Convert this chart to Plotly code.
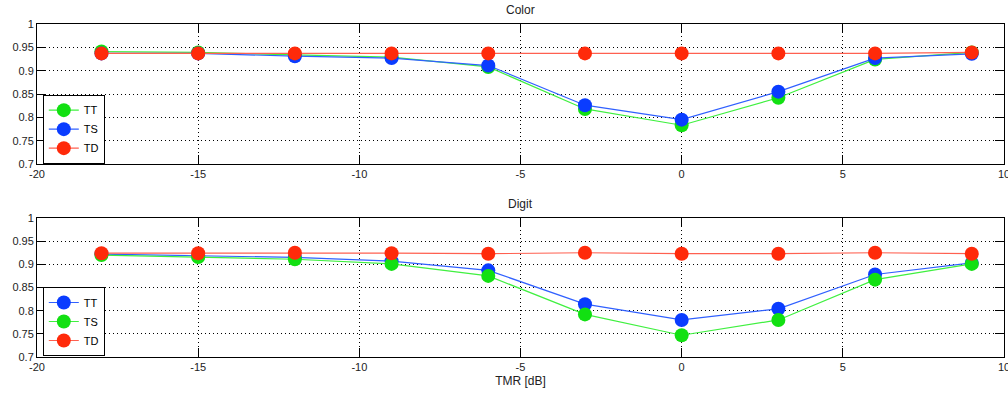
import plotly.graph_objects as go

# TMR values (dB)
tmr = [-18, -15, -12, -9, -6, -3, 0, 3, 6, 9]

# Color task accuracies
color_tt = [0.941, 0.939, 0.934, 0.929, 0.908, 0.818, 0.783, 0.842, 0.924, 0.939]
color_ts = [0.937, 0.937, 0.931, 0.927, 0.911, 0.826, 0.795, 0.855, 0.927, 0.936]
color_td = [0.937, 0.937, 0.937, 0.937, 0.937, 0.937, 0.937, 0.937, 0.937, 0.939]

# Digit task accuracies
digit_tt = [0.922, 0.918, 0.915, 0.907, 0.887, 0.814, 0.780, 0.804, 0.878, 0.903]
digit_ts = [0.920, 0.916, 0.911, 0.901, 0.875, 0.792, 0.747, 0.780, 0.867, 0.901]
digit_td = [0.924, 0.924, 0.925, 0.924, 0.923, 0.925, 0.923, 0.923, 0.925, 0.923]

# Axis ticks
x_ticks = [-20, -15, -10, -5, 0, 5, 10]
x_ticklabels = ["-20", "-15", "-10", "-5", "0", "5", "10"]
y_ticks = [0.7, 0.75, 0.8, 0.85, 0.9, 0.95, 1.0]
y_ticklabels = ["0.7", "0.75", "0.8", "0.85", "0.9", "0.95", "1"]

GREEN = "#12e012"
BLUE = "#0a3cff"
RED = "#ff2a0a"
LINE_GREEN = "#40f040"
LINE_BLUE = "#3060ff"
LINE_RED = "#ff6050"

FONT = "Liberation Sans, Arial, sans-serif"

fig = go.Figure()


def add(y, name, mcol, lcol, xa, ya, legend):
    fig.add_trace(go.Scatter(
        x=tmr, y=y, name=name, mode="lines+markers",
        line=dict(color=lcol, width=1.2),
        marker=dict(color=mcol, size=14, line=dict(width=0)),
        xaxis=xa, yaxis=ya, legend=legend,
    ))


# Color panel
add(color_tt, "TT", GREEN, LINE_GREEN, "x", "y", "legend")
add(color_ts, "TS", BLUE, LINE_BLUE, "x", "y", "legend")
add(color_td, "TD", RED, LINE_RED, "x", "y", "legend")

# Digit panel
add(digit_tt, "TT", BLUE, LINE_BLUE, "x2", "y2", "legend2")
add(digit_ts, "TS", GREEN, LINE_GREEN, "x2", "y2", "legend2")
add(digit_td, "TD", RED, LINE_RED, "x2", "y2", "legend2")

top_dom = [0.5796, 1.0]
bot_dom = [0.0, 0.4174]

xcommon = dict(
    range=[-20, 10], tickvals=x_ticks, ticktext=x_ticklabels,
    ticklabeloverflow="allow", automargin=False,
    showgrid=True, gridcolor="#000000", gridwidth=1, griddash="1px,3px",
    showline=True, linecolor="#000000", linewidth=1, mirror="ticks",
    ticks="inside", ticklen=9, tickcolor="#000000", zeroline=False,
    tickfont=dict(family=FONT, size=11, color="#222222"),
)
ycommon = dict(
    range=[0.7, 1.0], tickvals=y_ticks, ticktext=y_ticklabels,
    automargin=False,
    showgrid=True, gridcolor="#000000", gridwidth=1, griddash="1px,3px",
    showline=True, linecolor="#000000", linewidth=1, mirror="ticks",
    ticks="inside", ticklen=9, tickcolor="#000000", zeroline=False,
    tickfont=dict(family=FONT, size=11, color="#222222"),
)

legend_common = dict(
    bgcolor="#ffffff", bordercolor="#000000", borderwidth=1,
    font=dict(family=FONT, size=11, color="#000000"),
    xanchor="left", yanchor="bottom", itemwidth=30,
    tracegroupgap=0,
)

fig.update_layout(
    width=1008, height=394,
    margin=dict(l=37, r=4, t=24, b=37, autoexpand=False),
    paper_bgcolor="#ffffff", plot_bgcolor="#ffffff",
    showlegend=True,
    xaxis=dict(domain=[0, 1], anchor="y", **xcommon),
    yaxis=dict(domain=top_dom, anchor="x", **ycommon),
    xaxis2=dict(domain=[0, 1], anchor="y2", **xcommon,
                title=dict(text="TMR [dB]", standoff=4,
                           font=dict(family=FONT, size=12, color="#222222"))),
    yaxis2=dict(domain=bot_dom, anchor="x2", **ycommon),
    legend=dict(x=0.006, y=top_dom[0] + 0.001, **legend_common),
    legend2=dict(x=0.006, y=bot_dom[0] + 0.003, **legend_common),
    annotations=[
        dict(text="Color", x=0.5, y=1.0, xref="paper", yref="paper",
             xanchor="center", yanchor="bottom", yshift=5, showarrow=False,
             font=dict(family=FONT, size=12, color="#222222")),
        dict(text="Digit", x=0.5, y=bot_dom[1], xref="paper", yref="paper",
             xanchor="center", yanchor="bottom", yshift=5, showarrow=False,
             font=dict(family=FONT, size=12, color="#222222")),
    ],
)

fig.write_html("out.html")
